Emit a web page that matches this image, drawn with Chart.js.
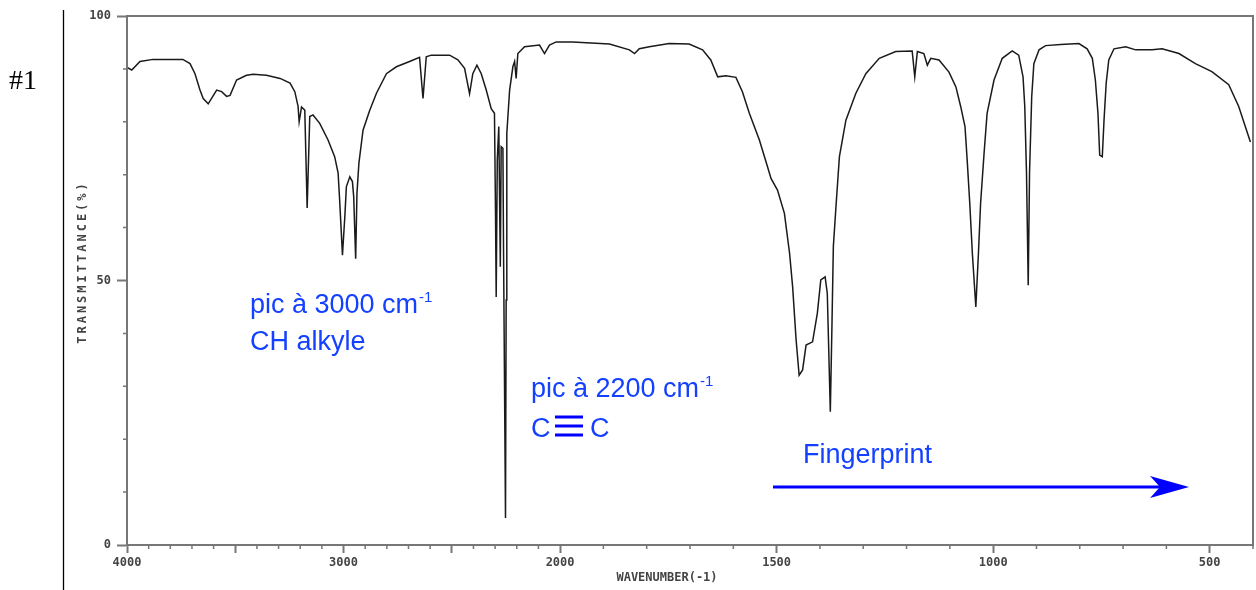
<!DOCTYPE html>
<html lang="fr">
<head>
<meta charset="UTF-8">
<title>Spectre IR #1</title>
<script src="https://cdn.jsdelivr.net/npm/chart.js@4.4.1/dist/chart.umd.min.js"></script>
<style>
  html, body { margin: 0; padding: 0; background: #fff; }
  #wrap { width: 1256px; height: 590px; }
</style>
</head>
<body>
<div id="wrap"><canvas id="irChart" width="1256" height="590"></canvas></div>
<script>
const wavenumbers = [
  4000,3978,3940,3880,3742,3709,3686,3663,3648,3625,3586,3563,3540,3524,3494,3448,3417,3356,3293,3247,
  3225,3210,3205,3194,3179,3168,3156,3141,3110,3072,3041,3025,3018,3005,2994,2987,2971,2959,2953,2944,
  2938,2929,2910,2879,2848,2802,2756,2695,2649,
  2633,2618,2595,2510,2472,2441,2418,2403,2384,2364,2341,2318,2303,2298,2295,2290,2283,2276,2272,2264,
  2261,2252,2249,2246,2233,2218,2210,2203,2195,2164,2095,2072,2049,2018,1971,1886,1840,1828,1817,1794,
  1748,1702,1671,1652,1636,1617,1594,1579,1563,1540,1521,1513,1498,1482,1470,1463,1455,1448,1440,1432,
  1417,1406,1398,1388,1383,1376,1372,1369,1363,1355,1340,1317,1294,1263,1225,1187,1181,1175,1160,1152,
  1144,1125,1102,
  1086,1075,1065,1060,1054,1048,1040,1034,1029,1021,1014,998,979,956,941,931,927,923,919,916,
  911,906,894,879,844,802,783,771,764,758,754,748,744,739,733,721,694,671,633,610,
  571,533,495,456,433,406
];
const transmittance = [
  90.3,89.8,91.4,91.8,91.8,91.0,89.1,86.0,84.4,83.4,86.0,85.7,84.8,85.0,87.9,88.8,89.0,88.8,88.2,87.3,
  85.7,82.9,80.0,82.8,82.2,63.7,81.0,81.3,79.7,76.6,73.4,70.3,65.2,54.8,62.1,67.7,69.6,68.7,65.8,54.1,
  66.5,72.2,78.4,82.2,85.4,89.1,90.4,91.4,92.2,
  84.4,92.3,92.6,92.6,91.7,90.1,85.3,89.1,90.7,89.1,86.0,82.5,81.6,62.1,46.9,72.8,79.1,52.6,75.3,75.0,
  55.2,5.1,46.3,77.8,86.0,90.4,91.4,88.2,92.9,94.2,94.5,92.9,94.5,95.1,95.1,94.7,93.6,92.9,93.8,94.2,
  94.8,94.7,93.6,91.7,88.5,88.7,88.4,85.7,81.6,76.6,71.5,69.3,67.1,62.7,55.1,48.8,38.8,32.1,33.1,37.8,
  38.4,43.8,50.1,50.7,47.6,25.2,42.5,56.4,63.9,73.4,80.3,85.4,89.1,92.0,93.3,93.4,88.5,93.3,92.9,90.7,
  92.0,91.7,89.4,
  86.6,82.9,79.1,72.8,64.6,55.1,45.0,55.1,64.6,74.0,81.6,87.9,92.0,93.4,92.6,88.5,82.9,70.3,49.1,70.3,
  84.7,91.0,93.6,94.4,94.6,94.8,93.8,92.0,87.9,81.6,73.7,73.4,80.3,87.3,91.7,93.8,94.2,93.6,93.6,93.8,
  92.9,91.0,89.5,87.0,82.9,76.2
];
const xTickLabels = [4000, 3000, 2000, 1500, 1000, 500];
const xLongTicks = [4000, 3500, 3000, 2500, 2000, 1500, 1000, 500];
const yTickLabels = [0, 50, 100];

// l'axe change d'echelle a 2000 cm-1 (x2 en dessous)
function toPos(w) { return w >= 2000 ? (4000 - w) / 2 : 1000 + (2000 - w); }
function fromPos(p) { return p <= 1000 ? 4000 - 2 * p : 3000 - p; }

const xTickValues = [];
for (let w = 4000; w >= 400; w -= 100) xTickValues.push(w);

const points = wavenumbers.map((w, i) => ({ x: toPos(w), y: transmittance[i] }));

const labelFont = { family: "'DejaVu Sans Mono'", size: 12, weight: 'bold' };
const axisGray = '#777';

function isLongX(v) { return xLongTicks.includes(Math.round(fromPos(v))); }
function isLongY(v) { return yTickLabels.includes(v); }

const extras = {
  id: 'extras',
  afterDraw(chart) {
    const ctx = chart.ctx;
    const a = chart.chartArea;
    const xs = chart.scales.x, ys = chart.scales.y;
    ctx.save();

    // cadre
    ctx.strokeStyle = axisGray;
    ctx.lineWidth = 2;
    ctx.strokeRect(a.left, a.top, a.right - a.left, a.bottom - a.top);

    // petites graduations
    ctx.lineWidth = 1.5;
    ctx.beginPath();
    xs.ticks.forEach(t => {
      if (isLongX(t.value)) return;
      const px = xs.getPixelForValue(t.value);
      ctx.moveTo(px, a.bottom);
      ctx.lineTo(px, a.bottom + 4);
    });
    ys.ticks.forEach(t => {
      if (isLongY(t.value)) return;
      const py = ys.getPixelForValue(t.value);
      ctx.moveTo(a.left, py);
      ctx.lineTo(a.left - 4, py);
    });
    ctx.stroke();

    // titres des axes
    ctx.fillStyle = '#444';
    ctx.font = "bold 12px 'DejaVu Sans Mono'";
    ctx.textAlign = 'center';
    ctx.textBaseline = 'middle';
    ctx.fillText('WAVENUMBER(-1)', 667, 578);
    ctx.save();
    ctx.translate(83, 262);
    ctx.rotate(-Math.PI / 2);
    ctx.letterSpacing = '3px';
    ctx.fillText('TRANSMITTANCE(%)', 0, 0);
    ctx.restore();

    // numero et trait vertical
    ctx.fillStyle = '#000';
    ctx.font = "28px 'Liberation Serif'";
    ctx.textAlign = 'left';
    ctx.textBaseline = 'alphabetic';
    ctx.fillText('#1', 9, 89);
    ctx.strokeStyle = '#000';
    ctx.lineWidth = 1.3;
    ctx.beginPath();
    ctx.moveTo(63.5, 10);
    ctx.lineTo(63.5, 590);
    ctx.stroke();

    // annotations
    const blue = '#1440ff';
    ctx.fillStyle = blue;
    ctx.font = "27px 'Liberation Sans'";
    ctx.fillText('pic à 3000 cm', 250, 313);
    let wTxt = ctx.measureText('pic à 3000 cm').width;
    ctx.fillText('CH alkyle', 250, 350);
    ctx.fillText('pic à 2200 cm', 531, 397);
    let wTxt2 = ctx.measureText('pic à 2200 cm').width;
    ctx.fillText('C', 531, 437);
    ctx.fillText('C', 590, 437);
    ctx.fillText('Fingerprint', 803, 463);
    ctx.font = "15px 'Liberation Sans'";
    ctx.fillText('-1', 250 + wTxt + 1, 302);
    ctx.fillText('-1', 531 + wTxt2 + 1, 386);

    // triple liaison
    ctx.fillStyle = '#0000ff';
    [417, 426, 435].forEach(y => ctx.fillRect(555, y - 1.5, 28, 3));

    // fleche
    ctx.strokeStyle = '#0000ff';
    ctx.lineWidth = 3;
    ctx.beginPath();
    ctx.moveTo(773, 487);
    ctx.lineTo(1160, 487);
    ctx.stroke();
    ctx.beginPath();
    ctx.moveTo(1189, 487);
    ctx.lineTo(1150, 476);
    ctx.lineTo(1160, 487);
    ctx.lineTo(1150, 498);
    ctx.closePath();
    ctx.fill();

    ctx.restore();
  }
};

new Chart(document.getElementById('irChart'), {
  type: 'line',
  data: {
    datasets: [{
      data: points,
      borderColor: '#1a1a1a',
      borderWidth: 1.5,
      pointRadius: 0,
      tension: 0,
      fill: false
    }]
  },
  options: {
    responsive: false,
    animation: false,
    layout: { padding: { left: 0, top: 16, right: 2, bottom: 0 } },
    plugins: { legend: { display: false }, tooltip: { enabled: false } },
    scales: {
      x: {
        type: 'linear',
        min: 0,
        max: 2600,
        afterFit(scale) { scale.height = 45; },
        afterBuildTicks(scale) { scale.ticks = xTickValues.map(w => ({ value: toPos(w) })); },
        border: { display: true, color: axisGray, width: 2 },
        grid: {
          drawOnChartArea: false,
          drawTicks: true,
          tickLength: 8,
          tickWidth: 2,
          tickColor: c => isLongX(c.tick.value) ? axisGray : 'rgba(0,0,0,0)'
        },
        ticks: {
          autoSkip: false,
          maxRotation: 0,
          padding: 3,
          color: '#444',
          font: labelFont,
          callback(value) {
            const w = Math.round(fromPos(value));
            return xTickLabels.includes(w) ? String(w) : '';
          }
        }
      },
      y: {
        min: 0,
        max: 100,
        afterFit(scale) { scale.width = 127; },
        border: { display: true, color: axisGray, width: 2 },
        grid: {
          drawOnChartArea: false,
          drawTicks: true,
          tickLength: 10,
          tickWidth: 2,
          tickColor: c => isLongY(c.tick.value) ? axisGray : 'rgba(0,0,0,0)'
        },
        ticks: {
          stepSize: 10,
          padding: 6,
          color: '#444',
          font: labelFont,
          callback(value) { return yTickLabels.includes(value) ? String(value) : ''; }
        }
      }
    }
  },
  plugins: [extras]
});
</script>
</body>
</html>
